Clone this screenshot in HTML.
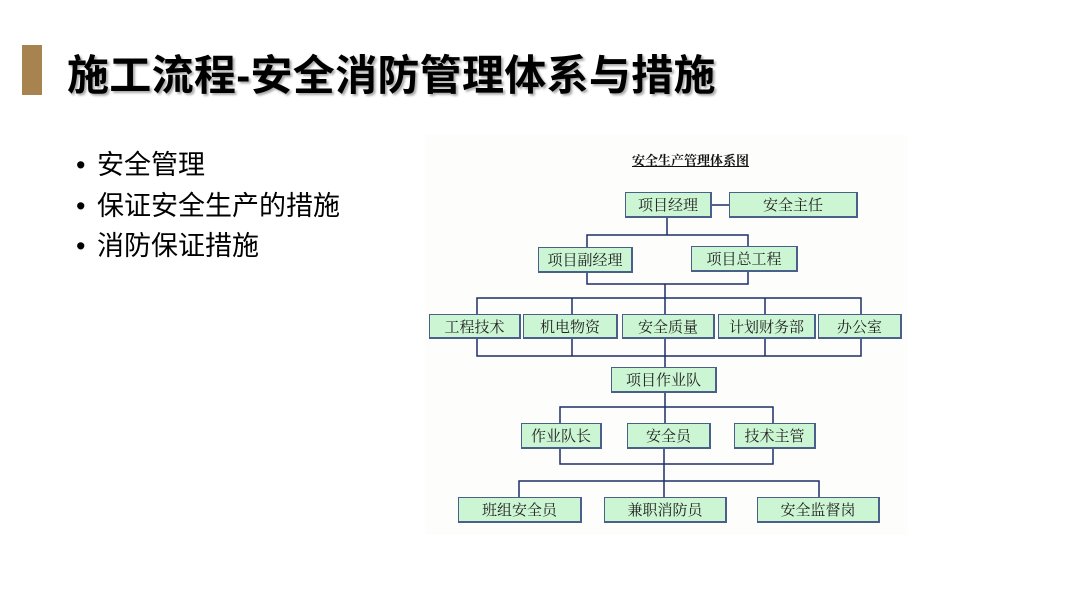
<!DOCTYPE html>
<html><head><meta charset="utf-8">
<style>
body{margin:0;width:1068px;height:605px;background:#fff;position:relative;overflow:hidden;font-family:"Liberation Sans","Noto Sans CJK SC",sans-serif;}
.bar{position:absolute;left:22px;top:45px;width:20px;height:50px;background:#a78350;}
.title{position:absolute;left:67px;top:52px;font-size:42px;font-weight:bold;line-height:48px;color:#000;letter-spacing:0.3px;text-shadow:2px 2px 2px #aaa;white-space:nowrap;}
.bl{position:absolute;left:76px;font-size:27px;line-height:32px;color:#000;white-space:nowrap;}
.bl span{display:inline-block;width:21px;}
.img{position:absolute;left:425px;top:135px;width:483px;height:400px;background:#fdfdfb;}
.ct{position:absolute;left:632px;top:150px;font-size:13px;font-weight:bold;text-decoration:underline;font-family:"Liberation Serif","Noto Serif CJK SC",serif;color:#111;}
.b{position:absolute;box-sizing:border-box;background:#ccf5d3;border:1.5px solid #4a5f8a;border-right-width:2px;border-bottom-width:2px;font-family:"Liberation Serif","Noto Serif CJK SC",serif;font-size:15px;color:#222;display:flex;align-items:center;justify-content:center;}
svg{position:absolute;left:0;top:0;}
</style></head><body>
<div class="bar"></div>
<div class="title">施工流程-安全消防管理体系与措施</div>
<div class="bl" style="top:149px"><span>•</span>安全管理</div>
<div class="bl" style="top:190px"><span>•</span>保证安全生产的措施</div>
<div class="bl" style="top:230px"><span>•</span>消防保证措施</div>
<div class="img"></div>
<div class="ct">安全生产管理体系图</div>
<svg width="1068" height="605">
<g stroke="#1f2f6a" stroke-width="1.5" fill="none">
<line x1="712" y1="205" x2="729" y2="205"/>
<line x1="667" y1="218" x2="667" y2="235"/>
<polyline points="587,247 587,235 748,235 748,247"/>
<polyline points="587,273 587,284 748,284 748,272"/>
<line x1="665" y1="284" x2="665" y2="314"/>
<polyline points="477,314 477,298 861,298 861,314"/>
<line x1="572" y1="298" x2="572" y2="314"/>
<line x1="765" y1="298" x2="765" y2="314"/>
<polyline points="477,339 477,356 861,356 861,339"/>
<line x1="572" y1="339" x2="572" y2="356"/>
<line x1="765" y1="339" x2="765" y2="356"/>
<line x1="665" y1="339" x2="665" y2="367"/>
<line x1="665" y1="393" x2="665" y2="423"/>
<polyline points="560,423 560,407 773,407 773,423"/>
<polyline points="560,449 560,464 773,464 773,449"/>
<line x1="664" y1="449" x2="664" y2="497"/>
<polyline points="519,497 519,481 819,481 819,497"/>
</g>
</svg>
<div class="b" style="left:625px;top:192px;width:87px;height:26px">项目经理</div>
<div class="b" style="left:729px;top:192px;width:129px;height:26px">安全主任</div>
<div class="b" style="left:538px;top:247px;width:95px;height:26px">项目副经理</div>
<div class="b" style="left:691px;top:246px;width:107px;height:26px">项目总工程</div>
<div class="b" style="left:429px;top:314px;width:92px;height:25px">工程技术</div>
<div class="b" style="left:523px;top:314px;width:95px;height:25px">机电物资</div>
<div class="b" style="left:622px;top:314px;width:93px;height:25px">安全质量</div>
<div class="b" style="left:718px;top:314px;width:98px;height:25px">计划财务部</div>
<div class="b" style="left:818px;top:314px;width:84px;height:25px">办公室</div>
<div class="b" style="left:611px;top:367px;width:106px;height:26px">项目作业队</div>
<div class="b" style="left:521px;top:423px;width:81px;height:26px">作业队长</div>
<div class="b" style="left:627px;top:423px;width:84px;height:26px">安全员</div>
<div class="b" style="left:734px;top:423px;width:82px;height:26px">技术主管</div>
<div class="b" style="left:458px;top:497px;width:124px;height:26px">班组安全员</div>
<div class="b" style="left:604px;top:497px;width:123px;height:26px">兼职消防员</div>
<div class="b" style="left:757px;top:497px;width:123px;height:26px">安全监督岗</div>
</body></html>
